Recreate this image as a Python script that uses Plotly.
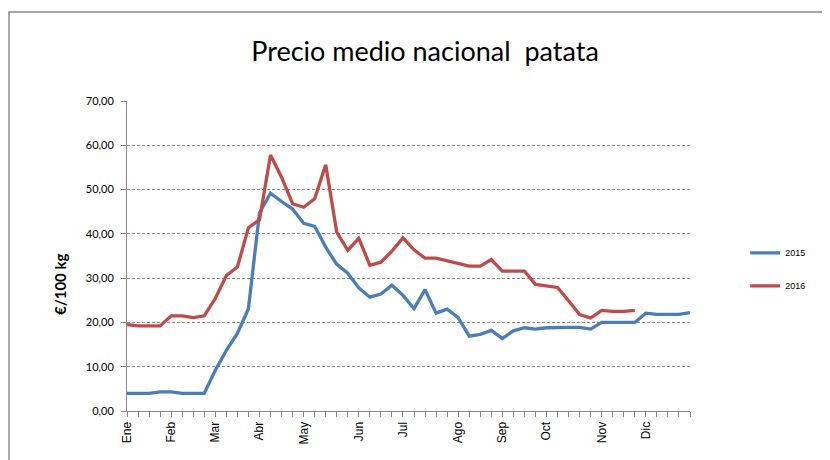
import plotly.graph_objects as go

weeks = list(range(52))
month_weeks = [0, 4, 8, 12, 16, 21, 25, 30, 34, 38, 43, 47]
month_labels = ["Ene", "Feb", "Mar", "Abr", "May", "Jun", "Jul", "Ago", "Sep", "Oct", "Nov", "Dic"]

precio_2015 = [4.0, 4.0, 4.0, 4.3, 4.3, 4.0, 4.0, 4.0, 9.2, 13.7, 17.5, 23.1, 44.7, 49.2,
               47.3, 45.6, 42.4, 41.7, 37.0, 33.1, 31.1, 27.8, 25.7, 26.4, 28.4, 26.1,
               23.1, 27.4, 22.1, 23.0, 21.1, 16.9, 17.3, 18.2, 16.4, 18.1, 18.8, 18.5,
               18.8, 18.9, 18.9, 18.9, 18.5, 20.0, 20.0, 20.0, 20.0, 22.1, 21.8, 21.8,
               21.8, 22.2]
precio_2016 = [19.5, 19.2, 19.2, 19.2, 21.5, 21.5, 21.1, 21.5, 25.4, 30.6, 32.5, 41.4, 43.2,
               57.8, 52.8, 46.8, 46.0, 47.9, 55.6, 40.4, 36.3, 39.0, 32.9, 33.6, 36.1,
               39.1, 36.4, 34.5, 34.5, 33.9, 33.3, 32.7, 32.7, 34.2, 31.6, 31.6, 31.6,
               28.6, 28.2, 27.9, 24.9, 21.8, 21.0, 22.7, 22.5, 22.5, 22.7]

y_ticks = [0, 10, 20, 30, 40, 50, 60, 70]

# page offset of the figure inside the html body (default body margin)
OFF = 8
L, T, PW, PH = 127 - OFF, 101 - OFF, 563, 310


def px(xpage):
    return (xpage - 127) / PW


def py(ypage):
    return (411 - ypage) / PH


fig = go.Figure()
fig.add_trace(go.Scatter(x=weeks[:len(precio_2015)], y=precio_2015, mode="lines", name="2015",
                         line=dict(color="#4a7ebb", width=3.3), legendgroup="a"))
fig.add_trace(go.Scatter(x=weeks[:len(precio_2016)], y=precio_2016, mode="lines", name="2016",
                         line=dict(color="#be4b48", width=3.3), legendgroup="b"))

fig.update_layout(
    width=830, height=460,
    margin=dict(l=L, r=830 - L - PW, t=T, b=460 - T - PH),
    paper_bgcolor="white", plot_bgcolor="white",
    separators=",.",
    title=dict(text="Precio medio nacional  patata", x=(425 - OFF) / 830, xanchor="center",
               y=1 - (52 - OFF) / 460, yanchor="middle", yref="container",
               font=dict(family="Lato", size=27, color="black")),
    showlegend=True,
    legend=dict(x=1.098, xanchor="left", y=0.457, yanchor="middle",
                font=dict(family="Liberation Sans", size=9, color="black"),
                tracegroupgap=14, traceorder="grouped", bgcolor="rgba(0,0,0,0)"),
    shapes=[dict(type="rect", xref="paper", yref="paper",
                 x0=px(9), x1=px(850), y0=py(480), y1=py(12),
                 line=dict(color="#8c8c8c", width=1.5), layer="below")],
    annotations=[dict(text="<b>€/100 kg</b>", xref="paper", yref="paper",
                      x=px(60), y=py(285), xanchor="center", yanchor="middle",
                      textangle=-90, showarrow=False,
                      font=dict(family="Lato", size=15, color="black"))],
)

fig.update_xaxes(
    range=[0, 51], tickmode="array", tickvals=month_weeks, ticktext=month_labels,
    tickangle=-90, ticks="outside", ticklen=5, tickcolor="#888", tickwidth=1,
    minor=dict(tick0=0, dtick=1, ticks="outside", ticklen=5, tickcolor="#888", tickwidth=1),
    showline=True, linecolor="#888", linewidth=1, showgrid=False, zeroline=False,
    tickfont=dict(family="Liberation Sans", size=12, color="black"),
)
fig.update_yaxes(
    range=[0, 70], tickmode="array", tickvals=y_ticks, tickformat=".2f",
    ticks="outside", ticklen=5, tickcolor="#888", ticklabelstandoff=5,
    showline=True, linecolor="#888", linewidth=1,
    showgrid=True, gridcolor="#8a8a8a", griddash="3px,2px", gridwidth=1, zeroline=False,
    tickfont=dict(family="Lato", size=11, color="black"),
)

fig.write_html("out.html")
